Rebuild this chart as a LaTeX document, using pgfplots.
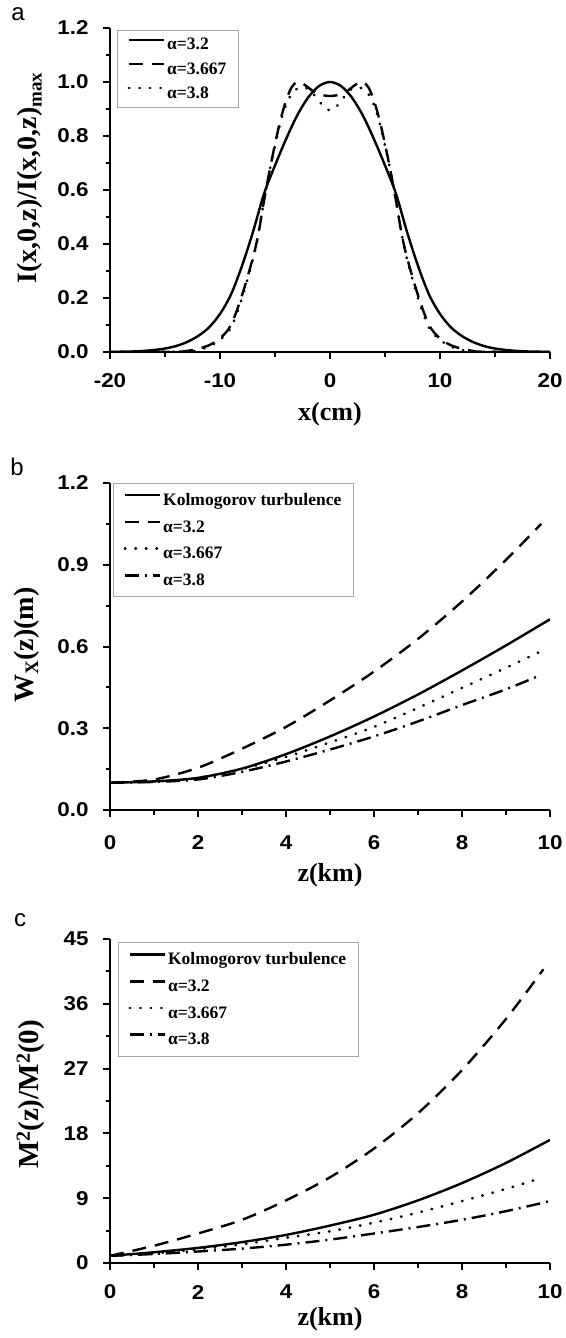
\documentclass[border=0pt]{standalone}
\usepackage{fontspec}
\setmainfont{Liberation Serif}
\setsansfont{Liberation Sans}
\newfontfamily\tickfont[FakeStretch=1.12]{Liberation Sans}
\usepackage{pgfplots}
\pgfplotsset{compat=1.18}

\pgfplotsset{
  panel/.style={
    scale only axis, width=440pt, height=324pt, anchor=south west,
    axis lines=left, axis line style={line width=2.6pt,-},
    enlargelimits=false,
    tick align=outside,
    major tick length=7pt, minor tick length=4.5pt,
    every tick/.style={black, line width=2pt},
    minor tick num=1,
    tick label style={font=\tickfont\bfseries\fontsize{20}{20}\selectfont},
    /pgf/number format/assume math mode=true,
    xticklabel style={anchor=center, yshift=-22pt},
    yticklabel style={anchor=east, xshift=-11pt},
    xlabel style={font=\bfseries\fontsize{26}{26}\selectfont, anchor=center},
    ylabel style={font=\bfseries\fontsize{28}{28}\selectfont, anchor=center},
    legend cell align=left,
    legend image code/.code={\draw[##1] (0pt,5pt) -- (35pt,5pt);},
    legend style={draw=gray!70, line width=0.9pt, anchor=north west,
      font=\bfseries\fontsize{17.5}{17.5}\selectfont,
      inner xsep=10pt, inner ysep=8pt, row sep=9.5pt},
  },
  solidL/.style={line width=2.4pt, black, solid},
  dashL/.style={line width=2.4pt, black, dash pattern=on 14pt off 9pt},
  dotL/.style={line width=2.7pt, black, line cap=round, dash pattern=on 0.5pt off 10pt},
  dashdotL/.style={line width=2.4pt, black, dash pattern=on 14pt off 6pt on 2pt off 6pt},
}

\begin{document}
\begin{tikzpicture}
\path[use as bounding box] (0pt,0pt) rectangle (565pt,-1338pt);

% ---------------- panel a ----------------
\node[font=\sffamily\fontsize{24}{24}\selectfont] at (18pt,-14pt) {a};
\begin{axis}[panel, at={(110pt,-352pt)},
  xmin=-20, xmax=20, ymin=0, ymax=1.2,
  xtick={-20,-10,0,10,20}, ytick={0,0.2,0.4,0.6,0.8,1.0,1.2},
  yticklabel style={/pgf/number format/.cd, fixed, fixed zerofill, precision=1},
  xlabel={x(cm)}, ylabel={I(x,0,z)/I(x,0,z)\raisebox{-5pt}{\fontsize{19}{19}\selectfont max}},
  xlabel style={at={(axis description cs:0.5,-0.191)}},
  ylabel style={at={(axis description cs:-0.182,0.537)}},
  legend style={at={(axis description cs:0.016,0.994)}, row sep=7pt, inner ysep=6pt},
]
\addplot[solidL, smooth] coordinates {
(-20,0.0005) (-18,0.002) (-17,0.004) (-16,0.0074) (-15,0.013) (-14,0.022) (-13,0.037) (-12,0.059) (-11,0.091)
(-10,0.141) (-9,0.213) (-8,0.319) (-7,0.445) (-6,0.586) (-5,0.691) (-4,0.788) (-3,0.875) (-2,0.942) (-1,0.985) (0,1)
(1,0.985) (2,0.942) (3,0.875) (4,0.788) (5,0.691) (6,0.586) (7,0.445) (8,0.319) (9,0.213) (10,0.141)
(11,0.091) (12,0.059) (13,0.037) (14,0.022) (15,0.013) (16,0.0074) (17,0.004) (18,0.002) (20,0.0005)};
\addlegendentry{α=3.2}
\addplot[dashL, smooth] coordinates {
(-20,0) (-14,0.001) (-13,0.004) (-12,0.012) (-11,0.025) (-10,0.05) (-9,0.1) (-8,0.21) (-7,0.35) (-6.5,0.44)
(-6,0.56) (-5.5,0.67) (-5,0.77) (-4.5,0.86) (-4,0.93) (-3.5,0.98) (-3,1.0) (-2.5,0.995) (-2,0.98) (-1.5,0.965)
(-1,0.955) (-0.5,0.95) (0,0.948) (0.5,0.95) (1,0.955) (1.5,0.965) (2,0.98) (2.5,0.995) (3,1.0) (3.5,0.98)
(4,0.93) (4.5,0.86) (5,0.77) (5.5,0.67) (6,0.56) (6.5,0.44) (7,0.35) (8,0.21) (9,0.1) (10,0.05) (11,0.025)
(12,0.012) (13,0.004) (14,0.001) (20,0)};
\addlegendentry{α=3.667}
\addplot[dotL, smooth] coordinates {
(-20,0) (-13,0.002) (-12,0.008) (-11,0.02) (-10,0.045) (-9,0.09) (-8,0.2) (-7,0.345) (-6.5,0.44) (-6,0.56)
(-5.5,0.67) (-5,0.765) (-4.5,0.85) (-4,0.915) (-3.5,0.955) (-3,0.975) (-2.5,0.98) (-2,0.975) (-1.5,0.955)
(-1,0.93) (-0.5,0.905) (0,0.895) (0.5,0.905) (1,0.93) (1.5,0.955) (2,0.975) (2.5,0.98) (3,0.975) (3.5,0.955)
(4,0.915) (4.5,0.85) (5,0.765) (5.5,0.67) (6,0.56) (6.5,0.44) (7,0.345) (8,0.2) (9,0.09) (10,0.045)
(11,0.02) (12,0.008) (13,0.002) (20,0)};
\addlegendentry{α=3.8}
\end{axis}

% ---------------- panel b ----------------
\node[font=\sffamily\fontsize{24}{24}\selectfont] at (17pt,-467pt) {b};
\begin{axis}[panel, at={(110pt,-810pt)}, height=327pt,
  xmin=0, xmax=10, ymin=0, ymax=1.2,
  xtick={0,2,4,6,8,10}, ytick={0,0.3,0.6,0.9,1.2},
  yticklabel style={/pgf/number format/.cd, fixed, fixed zerofill, precision=1},
  xticklabel style={yshift=-4pt},
  xlabel={z(km)}, ylabel={W\raisebox{-5pt}{\fontsize{19}{19}\selectfont X}(z)(m)},
  xlabel style={at={(axis description cs:0.5,-0.199)}},
  ylabel style={at={(axis description cs:-0.19,0.505)}},
  legend style={at={(axis description cs:0.007,1.0)}},
]
\addplot[solidL, smooth] coordinates {
(0,0.1) (1,0.105) (2,0.118) (3,0.152) (4,0.205) (5,0.27) (6,0.343) (7,0.424) (8,0.512) (9,0.604) (10,0.7)};
\addlegendentry{Kolmogorov turbulence}
\addplot[dashL, smooth] coordinates {
(0,0.1) (1,0.112) (2,0.155) (3,0.225) (4,0.305) (5,0.402) (6,0.508) (7,0.628) (8,0.765) (9,0.918) (9.8,1.05)};
\addlegendentry{α=3.2}
\addplot[dotL, smooth] coordinates {
(0,0.1) (1,0.104) (2,0.118) (3,0.15) (4,0.195) (5,0.248) (6,0.305) (7,0.375) (8,0.448) (9,0.522) (9.8,0.583)};
\addlegendentry{α=3.667}
\addplot[dashdotL, smooth] coordinates {
(0,0.1) (1,0.103) (2,0.112) (3,0.14) (4,0.178) (5,0.222) (6,0.27) (7,0.325) (8,0.385) (9,0.443) (9.8,0.496)};
\addlegendentry{α=3.8}
\end{axis}

% ---------------- panel c ----------------
\node[font=\sffamily\fontsize{24}{24}\selectfont] at (20pt,-920pt) {c};
\begin{axis}[panel, at={(110pt,-1263pt)},
  xmin=0, xmax=10, ymin=0, ymax=45,
  xtick={0,2,4,6,8,10}, ytick={0,9,18,27,36,45},
  xlabel={z(km)}, ylabel={M\raisebox{9pt}{\fontsize{20}{20}\selectfont 2}(z)/M\raisebox{9pt}{\fontsize{20}{20}\selectfont 2}(0)},
  ylabel style={font=\bfseries\fontsize{29}{29}\selectfont},
  xlabel style={at={(axis description cs:0.5,-0.173)}},
  ylabel style={at={(axis description cs:-0.18,0.52)}},
  legend style={at={(axis description cs:0.018,0.99)}},
]
\addplot[solidL, smooth] coordinates {
(0,1.0) (1,1.5) (2,2.1) (3,2.9) (4,3.9) (5,5.2) (6,6.7) (7,8.7) (8,11.1) (9,13.9) (10,17.1)};
\addlegendentry{Kolmogorov turbulence}
\addplot[dashL, smooth] coordinates {
(0,1.0) (1,2.4) (2,4.1) (3,6.0) (4,8.7) (5,11.9) (6,15.9) (7,20.8) (8,26.8) (9,33.9) (9.85,40.8)};
\addlegendentry{α=3.2}
\addplot[dotL, smooth] coordinates {
(0,1.0) (1,1.35) (2,1.9) (3,2.6) (4,3.5) (5,4.4) (6,5.6) (7,7.0) (8,8.6) (9,10.3) (9.8,11.8)};
\addlegendentry{α=3.667}
\addplot[dashdotL, smooth] coordinates {
(0,1.0) (1,1.25) (2,1.6) (3,2.0) (4,2.55) (5,3.25) (6,4.1) (7,5.0) (8,6.0) (9,7.2) (10,8.6)};
\addlegendentry{α=3.8}
\end{axis}
\end{tikzpicture}
\end{document}
